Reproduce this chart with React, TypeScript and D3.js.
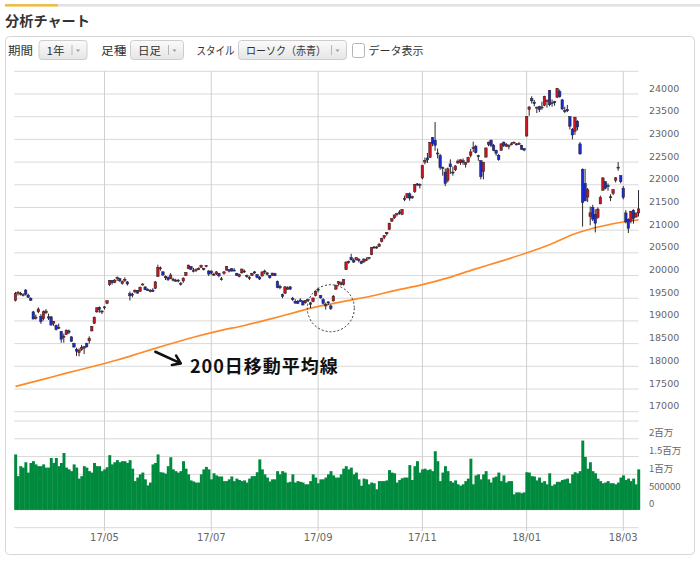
import React from 'react';
import * as d3 from 'd3';

// months covered by the 1-year daily chart and their trading-day counts
const monthNames = ['17/03', '17/04', '17/05', '17/06', '17/07', '17/08', '17/09', '17/10', '17/11', '17/12', '18/01', '18/02', '18/03'];
const monthDays = [15, 20, 20, 22, 20, 22, 20, 21, 20, 21, 19, 19, 7];
const labeledMonths = ['17/05', '17/07', '17/09', '17/11', '18/01', '18/03'];

// daily OHLC (one row per month)
const opens = [
  19450, 19630, 19600, 19570, 19680, 19570, 19500, 19200, 19060, 19200, 19100, 19050, 19180, 19090, 19090,
  18950, 18900, 18850, 18770, 18650, 18700, 18780, 18650, 18500, 18370, 18300, 18370, 18400, 18500, 18560, 18780, 18950, 19200, 19300, 19220,
  19300, 19390, 19800, 19890, 19850, 19960, 19930, 19820, 19890, 19860, 19600, 19570, 19640, 19670, 19650, 19800, 19750, 19690, 19650, 19680,
  19720, 19980, 20150, 20080, 19950, 19960, 19930, 19920, 19880, 19900, 19810, 19880, 20000, 20150, 20200, 20100, 20130, 20140, 20180, 20160, 20200, 20100,
  20100, 20030, 20040, 20050, 19920, 20050, 20120, 20130, 20150, 20120, 20050, 19980, 20060, 20100, 20000, 19940, 20000, 20080, 20020, 19960,
  19990, 20100, 20060, 20000, 20010, 20040, 19870, 19760, 19580, 19610, 19700, 19750, 19500, 19430, 19430, 19460, 19440, 19400, 19470, 19400, 19430, 19560,
  19700, 19560, 19470, 19330, 19420, 19330, 19440, 19700, 19830, 19840, 19800, 20130, 20300, 20400, 20340, 20350, 20360, 20310, 20300, 20330,
  20380, 20460, 20630, 20620, 20640, 20750, 20840, 20920, 21020, 21200, 21270, 21340, 21400, 21350, 21700, 21720, 21800, 21710, 21850, 22020, 22000,
  22150, 22500, 22590, 22600, 23040, 22980, 22700, 22640, 22370, 22280, 22100, 22460, 22280, 22330, 22480, 22490, 22530, 22450, 22500, 22650,
  22800, 22850, 22640, 22530, 22290, 22610, 22890, 22980, 22860, 22760, 22650, 22760, 22940, 22850, 22850, 22900, 22920, 22900, 22900, 22870, 22800,
  23073, 23660, 23900, 23820, 23690, 23720, 23700, 23750, 23840, 24080, 23800, 23830, 23930, 24050, 23870, 23630, 23660, 23500, 23220,
  23180, 23400, 22900, 22340, 22030, 21730, 21300, 21500, 21350, 21280, 21580, 21880, 22070, 21980, 21730, 21810, 22100, 22370, 22200,
  21920, 21380, 21240, 21200, 21440, 21290, 21380,
];
const highs = [
  19640, 19656, 19640, 19610, 19700, 19600, 19520, 19220, 19140, 19300, 19150, 19230, 19260, 19160, 19110,
  19000, 18920, 18940, 18780, 18720, 18810, 18810, 18660, 18520, 18410, 18400, 18470, 18450, 18520, 18660, 18890, 19100, 19300, 19320, 19230,
  19330, 19450, 19900, 19900, 19920, 19980, 19950, 19890, 19960, 19880, 19650, 19620, 19690, 19680, 19760, 19830, 19760, 19720, 19700, 19720,
  19880, 20239, 20200, 20100, 20000, 19980, 20050, 19950, 19930, 19920, 19860, 19960, 20070, 20240, 20210, 20170, 20160, 20180, 20240, 20170, 20230, 20120,
  20110, 20060, 20100, 20060, 19970, 20100, 20210, 20140, 20160, 20160, 20060, 20040, 20150, 20130, 20020, 19990, 20060, 20100, 20030, 19990,
  20090, 20130, 20070, 20010, 20060, 20060, 19890, 19800, 19600, 19760, 19760, 19770, 19530, 19480, 19460, 19500, 19450, 19460, 19490, 19420, 19510, 19660,
  19730, 19570, 19500, 19400, 19430, 19360, 19570, 19800, 19880, 19870, 19920, 20310, 20330, 20480, 20380, 20400, 20380, 20330, 20380, 20400,
  20410, 20620, 20650, 20650, 20720, 20830, 20890, 20960, 21160, 21260, 21340, 21380, 21440, 21460, 21760, 21810, 21830, 21760, 22010, 22040, 22030,
  22440, 22600, 22700, 22940, 23050, 23382, 22800, 22680, 22400, 22360, 22380, 22560, 22400, 22430, 22560, 22560, 22580, 22500, 22620, 22790,
  22950, 22880, 22660, 22540, 22500, 22820, 22950, 23000, 22900, 22770, 22680, 22920, 22950, 22920, 22890, 22940, 22950, 22920, 22940, 22880, 22810,
  23506, 23730, 23950, 23870, 23720, 23740, 23830, 23960, 23870, 24084, 23880, 23850, 24129, 24100, 23890, 23720, 23760, 23510, 23250,
  23500, 23420, 22940, 22360, 22350, 21930, 21520, 21560, 21460, 21500, 21760, 22170, 22070, 22030, 21790, 21900, 22170, 22500, 22210,
  21970, 21440, 21260, 21420, 21460, 21400, 21884,
];
const lows = [
  19430, 19560, 19560, 19540, 19560, 19510, 19440, 19040, 19030, 19170, 18937, 19010, 19150, 19020, 18900,
  18890, 18790, 18820, 18520, 18520, 18690, 18710, 18540, 18410, 18230, 18220, 18340, 18270, 18410, 18500, 18770, 18930, 19180, 19180, 19150,
  19250, 19370, 19770, 19800, 19830, 19880, 19860, 19800, 19860, 19780, 19450, 19520, 19610, 19600, 19650, 19780, 19680, 19660, 19630, 19640,
  19700, 19970, 20110, 19990, 19900, 19880, 19920, 19870, 19860, 19850, 19780, 19840, 19990, 20140, 20120, 20070, 20080, 20120, 20170, 20110, 20180, 19990,
  20020, 19990, 20010, 19960, 19890, 20020, 20110, 20070, 20090, 20100, 19990, 19960, 20040, 20060, 19950, 19900, 19990, 20040, 19940, 19900,
  19980, 20030, 20000, 19930, 19990, 19990, 19720, 19700, 19500, 19600, 19690, 19680, 19440, 19380, 19380, 19420, 19340, 19380, 19420, 19280, 19410, 19540,
  19630, 19490, 19360, 19250, 19350, 19240, 19430, 19690, 19780, 19780, 19780, 20120, 20260, 20330, 20280, 20330, 20290, 20250, 20280, 20320,
  20350, 20450, 20590, 20590, 20630, 20730, 20800, 20880, 21000, 21180, 21250, 21300, 21340, 21330, 21640, 21700, 21650, 21690, 21820, 21970, 21920,
  22120, 22450, 22480, 22590, 22850, 22750, 22580, 22330, 22200, 21970, 22050, 22240, 22200, 22300, 22460, 22440, 22440, 22380, 22490, 22600,
  22720, 22690, 22530, 22120, 22120, 22600, 22850, 22830, 22740, 22640, 22530, 22750, 22830, 22830, 22780, 22870, 22900, 22870, 22880, 22770, 22740,
  23065, 23520, 23790, 23730, 23580, 23600, 23650, 23730, 23700, 23730, 23720, 23740, 23910, 23920, 23650, 23580, 23600, 23220, 23000,
  23100, 23200, 22660, 21078, 21640, 21620, 21110, 21200, 20950, 21250, 21570, 21870, 21900, 21870, 21640, 21770, 22050, 22310, 22030,
  21680, 21150, 20937, 21150, 21140, 21270, 21300,
];
const closes = [
  19604, 19633, 19609, 19577, 19590, 19521, 19455, 19041, 19085, 19262, 18985, 19202, 19217, 19063, 18909,
  18983, 18810, 18861, 18597, 18664, 18797, 18747, 18552, 18426, 18335, 18355, 18418, 18432, 18430, 18620, 18875, 19079, 19289, 19251, 19196,
  19310, 19445, 19895, 19843, 19900, 19961, 19883, 19869, 19919, 19814, 19553, 19590, 19678, 19613, 19742, 19813, 19686, 19682, 19677, 19650,
  19860, 20177, 20170, 20013, 19979, 19909, 20013, 19908, 19898, 19883, 19831, 19943, 20067, 20230, 20138, 20110, 20132, 20153, 20225, 20130, 20220, 20033,
  20055, 20032, 20081, 19994, 19929, 20080, 20195, 20098, 20099, 20118, 20000, 20020, 20144, 20099, 19975, 19955, 20050, 20079, 19959, 19925,
  20080, 20080, 20029, 19952, 20055, 19996, 19738, 19729, 19537, 19753, 19729, 19702, 19470, 19393, 19383, 19434, 19353, 19452, 19449, 19362, 19506, 19646,
  19691, 19508, 19385, 19357, 19396, 19274, 19545, 19776, 19865, 19807, 19909, 20299, 20310, 20347, 20296, 20397, 20330, 20267, 20363, 20356,
  20400, 20614, 20626, 20628, 20690, 20823, 20881, 20954, 21155, 21255, 21336, 21363, 21372, 21457, 21696, 21805, 21707, 21739, 22008, 22011, 22011,
  22420, 22539, 22548, 22937, 22913, 22869, 22681, 22380, 22380, 22028, 22351, 22397, 22261, 22416, 22523, 22550, 22495, 22486, 22597, 22724,
  22819, 22707, 22622, 22177, 22498, 22811, 22938, 22866, 22758, 22694, 22553, 22901, 22868, 22891, 22866, 22902, 22939, 22892, 22911, 22783, 22764,
  23506, 23714, 23849, 23788, 23710, 23653, 23714, 23951, 23868, 23763, 23808, 23816, 24124, 23940, 23669, 23631, 23629, 23291, 23098,
  23486, 23274, 22682, 21610, 21645, 21890, 21382, 21244, 21154, 21464, 21720, 22149, 21925, 21970, 21736, 21892, 22153, 22389, 22068,
  21724, 21181, 21042, 21417, 21252, 21368, 21469,
];

// daily volume, millions
const volumes = [
  1.56, 0.95, 1.23, 1.19, 1.34, 1.05, 1.32, 1.37, 1.28, 1.23, 1.23, 1.28, 1.19, 1.19, 1.46,
  1.32, 1.46, 1.23, 1.32, 1.60, 1.19, 1.14, 1.09, 1.28, 1.19, 0.88, 0.95, 1.23, 1.19, 1.09, 1.05, 1.32, 1.23, 1.23, 1.09,
  1.14, 1.20, 1.54, 1.28, 1.34, 1.40, 1.34, 1.37, 1.37, 1.32, 1.40, 1.16, 0.81, 0.91, 1.00, 1.05, 0.86, 0.69, 0.77, 1.28,
  1.32, 1.56, 1.06, 1.05, 1.02, 1.23, 1.48, 1.14, 1.09, 1.05, 1.09, 1.37, 1.16, 1.00, 0.83, 0.80, 0.77, 0.77, 1.00, 1.14, 1.21, 1.14,
  0.86, 1.03, 0.97, 0.94, 0.94, 0.81, 0.81, 0.86, 0.94, 0.81, 0.88, 0.84, 0.81, 0.83, 0.77, 0.88, 0.95, 0.95, 1.06, 1.42,
  1.14, 1.00, 0.91, 0.80, 0.86, 0.86, 1.09, 1.00, 1.09, 1.05, 0.77, 0.79, 1.00, 0.77, 0.81, 0.79, 0.77, 0.72, 0.72, 0.81, 1.00, 0.91,
  0.75, 0.86, 0.86, 0.91, 1.00, 1.09, 0.97, 0.91, 0.91, 1.00, 1.16, 1.23, 1.14, 1.19, 1.00, 1.05, 0.86, 0.68, 0.88, 0.86,
  0.72, 0.77, 0.75, 0.58, 0.81, 0.81, 0.81, 0.83, 1.12, 1.05, 1.03, 0.77, 0.84, 0.89, 0.91, 0.91, 1.26, 0.84, 1.23, 1.37, 1.05,
  1.14, 1.16, 1.12, 1.14, 1.09, 1.65, 1.37, 0.81, 1.05, 1.23, 1.09, 0.81, 0.77, 0.83, 0.72, 0.68, 0.72, 0.81, 0.88, 1.44,
  0.72, 0.97, 1.00, 0.86, 1.00, 1.09, 0.86, 0.77, 0.91, 0.94, 1.05, 0.81, 0.97, 0.77, 0.81, 0.81, 0.44, 0.49, 0.49, 0.47, 0.49,
  1.06, 1.05, 0.95, 0.94, 0.83, 0.91, 0.77, 0.81, 0.72, 1.03, 0.68, 0.72, 0.79, 0.79, 0.84, 0.86, 0.88, 0.75, 1.00,
  1.06, 1.03, 1.09, 1.95, 1.49, 1.16, 1.34, 1.09, 1.03, 0.88, 0.81, 0.75, 0.77, 0.81, 0.75, 0.75, 0.72, 0.77, 0.91,
  0.97, 0.84, 0.88, 0.81, 0.88, 0.72, 1.14,
];

// 200-day moving average, read every 10 sessions
const maIndex = [0, 10, 20, 30, 40, 50, 60, 70, 80, 90, 100, 110, 120, 130, 140, 150, 160, 170, 180, 190, 200, 210, 220, 230, 240, 245];
const ma200 = [17557, 17700, 17850, 17990, 18140, 18310, 18480, 18640, 18780, 18900, 19040, 19190, 19330, 19440, 19550, 19680, 19800, 19950, 20130, 20300, 20480, 20680, 20920, 21080, 21190, 21225];

const priceTicks = [24000, 23500, 23000, 22500, 22000, 21500, 21000, 20500, 20000, 19500, 19000, 18500, 18000, 17500, 17000];
const priceGrid = [24500, ...priceTicks];
const volumeTicks = [2, 1.5, 1, 0.5, 0];
const volumeTickLabels = ['2百万', '1.5百万', '1百万', '500000', '0'];
const volumeGrid = [2.5, 2, 1.5, 1, 0.5, 0, -0.5];

const jp = '"Noto Sans CJK JP", "Noto Sans", sans-serif';
const num = '"DejaVu Sans", sans-serif';

const App: React.FC = () => {
  const n = Math.min(opens.length, highs.length, lows.length, closes.length, volumes.length);

  const x = d3.scaleBand<number>().domain(d3.range(n)).range([14.2, 639.8]).padding(0);
  const bw = x.bandwidth();
  const cx = (i: number) => (x(i) as number) + bw / 2;
  const yPrice = d3.scaleLinear().domain([17000, 24000]).range([411.7, 94]);
  const yVol = d3.scaleLinear().domain([-0.5, 2.5]).range([527.7, 421]);

  // index of the first session of each month
  const starts = [0, ...Array.from(d3.cumsum(monthDays)).slice(0, -1)];
  const monthTicks = monthNames
    .map((m, k) => ({ label: m, index: starts[k] }))
    .filter(t => labeledMonths.includes(t.label) && t.index < n);

  const maLine = d3.line<number>()
    .x((_, k) => cx(maIndex[k]))
    .y(v => yPrice(v))
    .curve(d3.curveMonotoneX);

  const plotLeft = 14.2;
  const plotRight = 638.5;

  // annotations anchored to data positions
  const circle = { index: 124, price: 19280, r: 23.5 };
  const arrowFrom = { index: 55, price: 18320 };
  const arrowTo = { index: 65, price: 18065 };
  const ax1 = cx(arrowFrom.index), ay1 = yPrice(arrowFrom.price);
  const ax2 = cx(arrowTo.index), ay2 = yPrice(arrowTo.price);
  const ang = Math.atan2(ay2 - ay1, ax2 - ax1);
  const head = 9;
  const h1 = [ax2 - head * Math.cos(ang - 0.6), ay2 - head * Math.sin(ang - 0.6)];
  const h2 = [ax2 - head * Math.cos(ang + 0.6), ay2 - head * Math.sin(ang + 0.6)];

  const buttons = [
    { label: '期間', x: 8, lw: 25, bx: 39, bw: 48, text: '1年', tw: 18 },
    { label: '足種', x: 101, lw: 25.5, bx: 130.5, bw: 53, text: '日足', tw: 23 },
    { label: 'スタイル', x: 196.5, lw: 38, bx: 238.5, bw: 108, text: 'ローソク（赤青）', tw: 80 },
  ];

  return (
    <div style={{ position: 'absolute', left: 0, top: 0 }}>
      <svg width={700} height={561} style={{ display: 'block', background: '#fff' }}>
        <defs>
          <linearGradient id="btn" x1="0" y1="0" x2="0" y2="1">
            <stop offset="0%" stopColor="#fbfbfb" />
            <stop offset="100%" stopColor="#e5e5e5" />
          </linearGradient>
        </defs>

        {/* header */}
        <rect x={58} y={4} width={642} height={2.6} fill="#e2e2e2" />
        <rect x={5} y={4} width={53} height={2.6} fill="#e8bd48" />
        <text x={5} y={25.5} fontFamily={jp} fontSize={14} fontWeight="bold" fill="#333" textLength={85} lengthAdjust="spacingAndGlyphs">分析チャート</text>

        {/* panel */}
        <rect x={5.5} y={36.5} width={689} height={518} rx={4} fill="#fff" stroke="#d6d6d6" />

        {/* toolbar */}
        {buttons.map(b => (
          <g key={b.label}>
            <text x={b.x} y={55} fontFamily={jp} fontSize={11.5} fill="#333" textLength={b.lw} lengthAdjust="spacingAndGlyphs">{b.label}</text>
            <rect x={b.bx} y={40.5} width={b.bw} height={19} rx={3} fill="url(#btn)" stroke="#cdcdcd" />
            <text x={b.bx + 7.5} y={54.5} fontFamily={jp} fontSize={11} fill="#333" textLength={b.tw} lengthAdjust="spacingAndGlyphs">{b.text}</text>
            <line x1={b.bx + b.bw - 15} x2={b.bx + b.bw - 15} y1={45} y2={55} stroke="#b8b8b8" />
            <path d={`M${b.bx + b.bw - 11},49.5 h4 l-2,2.5 z`} fill="#999" />
          </g>
        ))}
        <rect x={352.5} y={43.5} width={12} height={14} rx={2} fill="#fff" stroke="#b5b5b5" />
        <text x={368.5} y={55} fontFamily={jp} fontSize={11.5} fill="#333" textLength={55} lengthAdjust="spacingAndGlyphs">データ表示</text>

        {/* grid */}
        {priceGrid.map(v => (
          <line key={`pg${v}`} x1={plotLeft} x2={plotRight} y1={yPrice(v)} y2={yPrice(v)} stroke="#d9d9d9" />
        ))}
        {volumeGrid.map(v => (
          <line key={`vg${v}`} x1={plotLeft} x2={plotRight} y1={yVol(v)} y2={yVol(v)} stroke="#d9d9d9" />
        ))}
        {monthTicks.map(t => (
          <line key={`mg${t.label}`} x1={cx(t.index)} x2={cx(t.index)} y1={71} y2={531} stroke="#cfcfcf" />
        ))}

        {/* axis labels */}
        {priceTicks.map(v => (
          <text key={`pt${v}`} x={649} y={yPrice(v) - 2.5} fontFamily={num} fontSize={9.5} fill="#666">{v}</text>
        ))}
        {volumeTicks.map((v, k) => (
          <text key={`vt${v}`} x={649} y={yVol(v) - 2.5} fontFamily={jp} fontSize={9.5} fill="#666">{volumeTickLabels[k]}</text>
        ))}
        {monthTicks.map(t => (
          <text key={`mt${t.label}`} x={cx(t.index)} y={540.5} textAnchor="middle" fontFamily={num} fontSize={10} fill="#666">{t.label}</text>
        ))}

        {/* volume */}
        {volumes.slice(0, n).map((v, i) => (
          <rect key={`v${i}`} x={x(i) as number} y={yVol(v)} width={bw + 0.4} height={yVol(0) - yVol(v)} fill="#008a3e" />
        ))}

        {/* 200-day MA */}
        <path d={maLine(ma200) || ''} fill="none" stroke="#ff8a2a" strokeWidth={1.7} />

        {/* candles */}
        {d3.range(n).map(i => {
          const o = opens[i], c = closes[i];
          const up = c >= o;
          const top = yPrice(Math.max(o, c));
          const h = Math.max(Math.abs(yPrice(o) - yPrice(c)), 1);
          return (
            <g key={`c${i}`}>
              <line x1={cx(i)} x2={cx(i)} y1={yPrice(highs[i])} y2={yPrice(lows[i])} stroke="#111" strokeWidth={0.9} />
              <rect x={cx(i) - 1.25} y={top} width={2.5} height={h} fill={up ? '#cc1420' : '#1a2ad8'} stroke="#222" strokeWidth={0.5} />
            </g>
          );
        })}

        {/* annotations */}
        <circle cx={cx(circle.index)} cy={yPrice(circle.price)} r={circle.r} fill="none" stroke="#333" strokeDasharray="2,2" />
        <path d={`M${ax1},${ay1} L${ax2},${ay2} M${h1[0]},${h1[1]} L${ax2},${ay2} L${h2[0]},${h2[1]}`} fill="none" stroke="#111" strokeWidth={2.6} strokeLinecap="round" strokeLinejoin="round" />
        <text x={190} y={373} fontFamily={jp} fontSize={18} fontWeight="bold" letterSpacing={1} fill="#111">200日移動平均線</text>
      </svg>
    </div>
  );
};

export default App;
